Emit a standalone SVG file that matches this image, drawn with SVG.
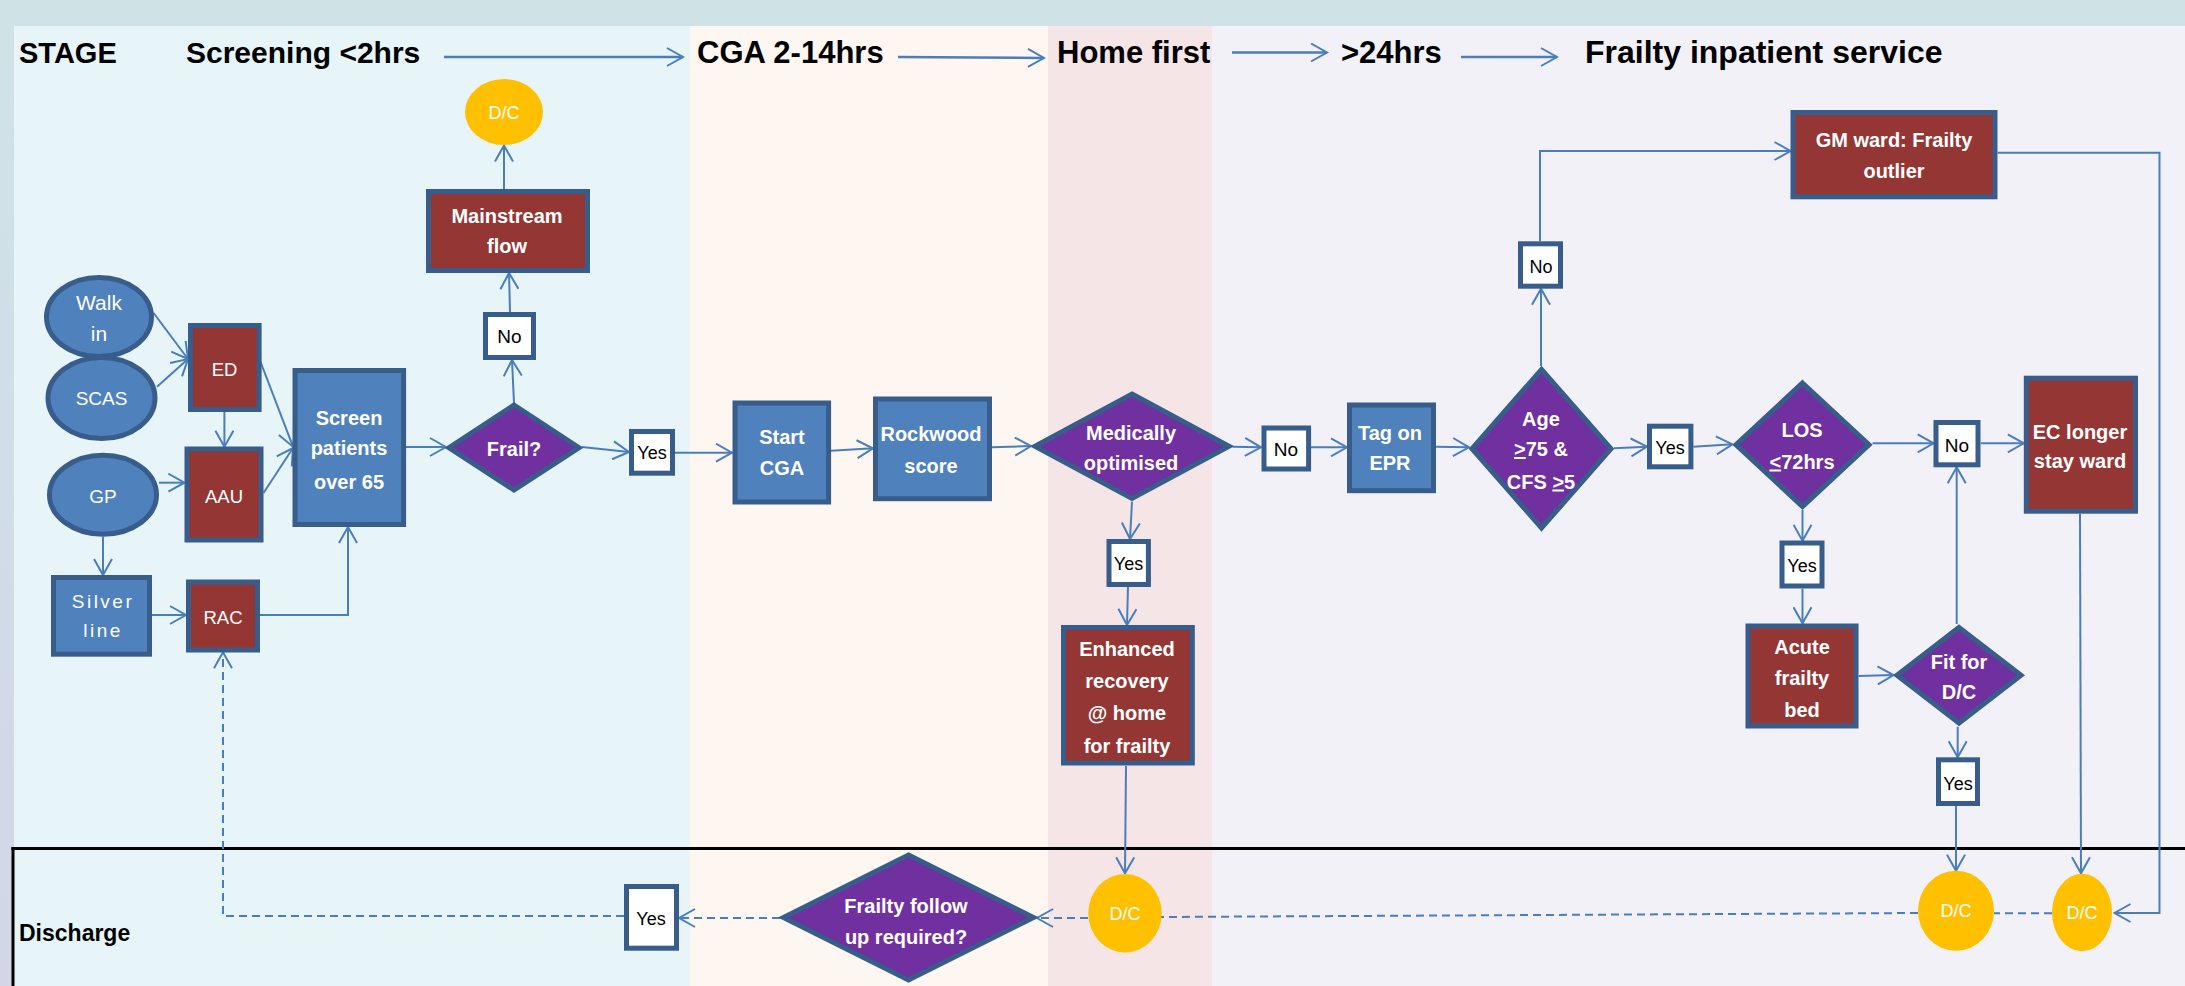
<svg xmlns="http://www.w3.org/2000/svg" width="2185" height="986" viewBox="0 0 2185 986">
<defs>
<linearGradient id="strip" x1="0" y1="0" x2="0" y2="1">
<stop offset="0" stop-color="#cfe3e7"/><stop offset="1" stop-color="#d2d6e6"/>
</linearGradient>
<marker id="ah" markerUnits="userSpaceOnUse" viewBox="0 0 20 20" refX="18" refY="10" markerWidth="20" markerHeight="20" orient="auto">
<path d="M2,1 L18,10 L2,19" fill="none" stroke="#4a7ebb" stroke-width="2"/>
</marker>
<style>
.blue{fill:#4f81bd;stroke:#385d8a;stroke-width:5}
.red{fill:#943634;stroke:#385d8a;stroke-width:5}
.pur{fill:#7030a0;stroke:#385d8a;stroke-width:5;stroke-linejoin:miter}
.lbl{fill:#ffffff;stroke:#385d8a;stroke-width:5}
.dc{fill:#ffc000}
text{font-family:"Liberation Sans",Arial,sans-serif}
.tb{font-weight:bold;font-size:20px;fill:#ffffff;text-anchor:middle}
.tn{font-size:18px;fill:#ffffff;text-anchor:middle}
.tk{font-size:18px;fill:#000000;text-anchor:middle}
.hd{font-weight:bold;font-size:31px;fill:#000000}
.cn{fill:none;stroke:#4a7ebb;stroke-width:2;marker-end:url(#ah)}
.cp{fill:none;stroke:#4a7ebb;stroke-width:2}
.ds{stroke-dasharray:8 5}
.hl{fill:none;stroke:#4a7ebb;stroke-width:2.5;marker-end:url(#ah)}
</style>
</defs>

<g id="background">
<rect x="0" y="0" width="2185" height="986" fill="#cfe3e7"/>
<rect x="0" y="26" width="14" height="960" fill="url(#strip)"/>
<rect x="14" y="26" width="676" height="960" fill="#e7f4f8"/>
<rect x="690" y="26" width="358" height="960" fill="#fdf6f1"/>
<rect x="1048" y="26" width="164" height="960" fill="#f5e5e6"/>
<rect x="1212" y="26" width="973" height="960" fill="#f3f1f8"/>
<line x1="11.5" y1="848.5" x2="2185" y2="848.5" stroke="#000" stroke-width="3"/>
<line x1="13" y1="847" x2="13" y2="986" stroke="#000" stroke-width="3"/>
</g>

<g id="headers">
<text class="hd" x="19" y="63" style="font-size:29px">STAGE</text>
<text class="hd" x="186" y="63" style="font-size:30px">Screening &lt;2hrs</text>
<text class="hd" x="697" y="63">CGA 2-14hrs</text>
<text class="hd" x="1057" y="63">Home first</text>
<text class="hd" x="1341" y="63">&gt;24hrs</text>
<text class="hd" x="1585" y="63" style="font-size:32px">Frailty inpatient service</text>
<text class="hd" x="19" y="941" style="font-size:23px">Discharge</text>
</g>

<g id="connectors">
<line class="hl" x1="444" y1="57" x2="683" y2="57"/>
<line class="hl" x1="898" y1="57" x2="1044" y2="58"/>
<line class="hl" x1="1232" y1="52.5" x2="1327" y2="52.5"/>
<line class="hl" x1="1461" y1="57" x2="1557" y2="57"/>

<line class="cn" x1="153.6" y1="313" x2="188" y2="359"/>
<line class="cn" x1="157" y1="386.7" x2="188" y2="359"/>
<line class="cn" x1="224.4" y1="412" x2="224.4" y2="446.7"/>
<line class="cn" x1="159" y1="482.7" x2="184.4" y2="482.7"/>
<line class="cn" x1="259.8" y1="360" x2="293" y2="446.7"/>
<line class="cn" x1="263.5" y1="493" x2="293" y2="448"/>
<line class="cn" x1="103" y1="536.7" x2="103" y2="575"/>
<line class="cn" x1="152" y1="615" x2="186" y2="615"/>
<polyline class="cn" points="260,615 348,615 348,527"/>
<line class="cn" x1="406" y1="447" x2="446" y2="447"/>
<line class="cn" x1="514" y1="403" x2="512" y2="360"/>
<line class="cn" x1="510" y1="312" x2="509" y2="273"/>
<line class="cn" x1="504" y1="189" x2="504" y2="145.5"/>
<line class="cn" x1="582" y1="447" x2="629" y2="452"/>
<line class="cn" x1="675" y1="452.7" x2="732" y2="452.7"/>
<line class="cn" x1="831" y1="450.7" x2="873" y2="448.3"/>
<line class="cn" x1="992" y1="447.3" x2="1031" y2="446"/>
<line class="cn" x1="1232.6" y1="446.7" x2="1261" y2="447.3"/>
<line class="cn" x1="1311" y1="447.3" x2="1347" y2="447.3"/>
<line class="cn" x1="1132" y1="501.7" x2="1130" y2="539"/>
<line class="cn" x1="1128" y1="587" x2="1127" y2="625"/>
<line class="cn" x1="1126" y1="766" x2="1125" y2="873.3"/>
<line class="cn" x1="1436" y1="446.7" x2="1469" y2="447.3"/>
<line class="cn" x1="1541" y1="366" x2="1541" y2="288.7"/>
<polyline class="cn" points="1540,241.3 1540,151 1790.5,151"/>
<polyline class="cn" points="1997.7,152.7 2159.5,152.7 2159.5,913 2114.5,913"/>
<line class="cn" x1="1614" y1="448.3" x2="1647" y2="446.7"/>
<line class="cn" x1="1693.4" y1="446.7" x2="1732.4" y2="444.3"/>
<line class="cn" x1="1872.6" y1="443.3" x2="1933.7" y2="443.3"/>
<line class="cn" x1="1980.7" y1="443.3" x2="2023.8" y2="443.3"/>
<line class="cn" x1="1802.5" y1="510" x2="1802.5" y2="540.7"/>
<line class="cn" x1="1802.5" y1="588.7" x2="1802.5" y2="623.3"/>
<line class="cn" x1="1858.6" y1="676" x2="1893.6" y2="675"/>
<line class="cn" x1="1956.7" y1="624" x2="1956.7" y2="467.3"/>
<line class="cn" x1="1957.7" y1="726.7" x2="1957.7" y2="757.3"/>
<line class="cn" x1="1956" y1="806" x2="1956" y2="870.7"/>
<line class="cn" x1="2080" y1="513.7" x2="2081" y2="873.3"/>

<line class="cp ds" x1="2052" y1="913.3" x2="1994" y2="913.3"/>
<line class="cp ds" x1="1918" y1="913" x2="1161" y2="917"/>
<line class="cn ds" x1="1088" y1="918" x2="1037" y2="918"/>
<line class="cn ds" x1="780" y1="918" x2="679" y2="918"/>
<polyline class="cn ds" points="624,916 223,916 223,652.3"/>
</g>

<g id="walk-in"><ellipse class="blue" cx="99" cy="317" rx="52.5" ry="39.5"/><text class="tn" style="font-size:21px" x="99" y="310">Walk</text><text class="tn" style="font-size:21px" x="99" y="341">in</text></g>
<g id="scas"><ellipse class="blue" cx="101.5" cy="398" rx="53.5" ry="40.5"/><text class="tn" style="font-size:19px" x="101.5" y="405">SCAS</text></g>
<g id="gp"><ellipse class="blue" cx="103" cy="494.7" rx="53.5" ry="39.5"/><text class="tn" style="font-size:19px" x="103" y="503">GP</text></g>
<g id="ed"><rect class="red" x="190.5" y="325.5" width="68.6" height="84"/><text class="tn" style="font-size:18.5px" x="224.5" y="375.5">ED</text></g>
<g id="aau"><rect class="red" x="187" y="449" width="74" height="91"/><text class="tn" style="font-size:18.5px" x="224" y="503">AAU</text></g>
<g id="silver-line"><rect class="blue" x="53.5" y="577.5" width="96" height="76.7"/><text class="tn" style="font-size:19px;letter-spacing:2.5px" x="103" y="608">Silver</text><text class="tn" style="font-size:19px;letter-spacing:2.5px" x="103" y="637">line</text></g>
<g id="rac"><rect class="red" x="188.5" y="582" width="69" height="68"/><text class="tn" style="font-size:18.5px" x="223" y="623.5">RAC</text></g>
<g id="screen"><rect class="blue" x="295" y="370.5" width="108.6" height="154"/><text class="tb" x="349" y="424.5">Screen</text><text class="tb" x="349" y="455">patients</text><text class="tb" x="349" y="488.5">over 65</text></g>
<g id="frail"><polygon class="pur" points="514,405 579,447.7 514,490 449,447.7"/><text class="tb" x="514" y="456">Frail?</text></g>
<g id="no-frail"><rect class="lbl" x="485.5" y="314.5" width="48" height="43"/><text class="tk" style="font-size:19px" x="509.5" y="343">No</text></g>
<g id="mainstream"><rect class="red" x="428.5" y="191.5" width="159" height="79"/><text class="tb" x="507" y="222.5">Mainstream</text><text class="tb" x="507" y="252.5">flow</text></g>
<g id="dc-top"><ellipse class="dc" cx="504" cy="112" rx="39" ry="33"/><text class="tn" x="504" y="118.5">D/C</text></g>
<g id="yes-frail"><rect class="lbl" x="631.5" y="431.5" width="41" height="41.7"/><text class="tk" x="652" y="458.5">Yes</text></g>
<g id="start-cga"><rect class="blue" x="735" y="403" width="93.6" height="99"/><text class="tb" x="782" y="444">Start</text><text class="tb" x="782" y="475">CGA</text></g>
<g id="rockwood"><rect class="blue" x="875.5" y="399" width="114" height="99.7"/><text class="tb" x="931" y="441">Rockwood</text><text class="tb" x="931" y="473">score</text></g>
<g id="medically"><polygon class="pur" points="1132,394 1229,446.3 1132,498.5 1035,446.3"/><text class="tb" x="1131" y="440">Medically</text><text class="tb" x="1131" y="470">optimised</text></g>
<g id="no-med"><rect class="lbl" x="1264" y="428" width="44.6" height="41"/><text class="tk" style="font-size:19px" x="1286" y="455.5">No</text></g>
<g id="tag-epr"><rect class="blue" x="1349.5" y="405" width="84" height="85.7"/><text class="tb" x="1390" y="439.5">Tag on</text><text class="tb" x="1390" y="470">EPR</text></g>
<g id="yes-med"><rect class="lbl" x="1109" y="541.5" width="39.4" height="43"/><text class="tk" x="1128.5" y="569.5">Yes</text></g>
<g id="enhanced"><rect class="red" x="1063.5" y="627.5" width="128.8" height="135.5"/><text class="tb" x="1127" y="656">Enhanced</text><text class="tb" x="1127" y="688">recovery</text><text class="tb" x="1127" y="720">@ home</text><text class="tb" x="1127" y="752.5">for frailty</text></g>
<g id="dc-home"><ellipse class="dc" cx="1125" cy="913.3" rx="36.7" ry="39.3"/><text class="tn" x="1125" y="920">D/C</text></g>
<g id="age"><polygon class="pur" points="1541.5,369.5 1611,448.7 1541.5,528 1472,448.7"/><text class="tb" x="1541" y="426">Age</text><text class="tb" x="1541" y="456"><tspan text-decoration="underline">&gt;</tspan>75 &amp;</text><text class="tb" x="1541" y="488.5">CFS <tspan text-decoration="underline">&gt;</tspan>5</text></g>
<g id="no-age"><rect class="lbl" x="1520.5" y="243.8" width="40" height="42.4"/><text class="tk" x="1541" y="273">No</text></g>
<g id="gm-ward"><rect class="red" x="1793" y="112.5" width="202" height="84.3"/><text class="tb" x="1894" y="147">GM ward: Frailty</text><text class="tb" x="1894" y="177.5">outlier</text></g>
<g id="yes-age"><rect class="lbl" x="1649.5" y="426.2" width="41.4" height="40.6"/><text class="tk" x="1670" y="453.5">Yes</text></g>
<g id="los"><polygon class="pur" points="1802.5,383 1869,444.7 1802.5,506.5 1736,444.7"/><text class="tb" x="1802" y="437">LOS</text><text class="tb" x="1802" y="468.5"><tspan text-decoration="underline">&lt;</tspan>72hrs</text></g>
<g id="no-los"><rect class="lbl" x="1936" y="422.5" width="42" height="42.3"/><text class="tk" style="font-size:19px" x="1957" y="451.5">No</text></g>
<g id="ec-ward"><rect class="red" x="2026.3" y="378.2" width="109.2" height="133"/><text class="tb" x="2080" y="438.5">EC longer</text><text class="tb" x="2080" y="468">stay ward</text></g>
<g id="yes-los"><rect class="lbl" x="1782" y="543" width="40" height="43"/><text class="tk" x="1802" y="571.5">Yes</text></g>
<g id="acute"><rect class="red" x="1748" y="626" width="108" height="100"/><text class="tb" x="1802" y="653.5">Acute</text><text class="tb" x="1802" y="684.5">frailty</text><text class="tb" x="1802" y="717">bed</text></g>
<g id="fit-dc"><polygon class="pur" points="1959,627.5 2021,675.3 1959,723 1897,675.3"/><text class="tb" x="1959" y="668.5">Fit for</text><text class="tb" x="1959" y="698.5">D/C</text></g>
<g id="yes-fit"><rect class="lbl" x="1938.5" y="759.8" width="39" height="43.7"/><text class="tk" x="1958" y="789.5">Yes</text></g>
<g id="dc-fit"><ellipse class="dc" cx="1956" cy="910.7" rx="38" ry="40"/><text class="tn" x="1956" y="917">D/C</text></g>
<g id="dc-ec"><ellipse class="dc" cx="2082" cy="912.5" rx="30" ry="38.7"/><text class="tn" x="2082" y="919">D/C</text></g>
<g id="frailty-follow"><polygon class="pur" points="908.5,855 1033.5,917.5 908.5,980 783.5,917.5"/><text class="tb" x="906" y="913">Frailty follow</text><text class="tb" x="906" y="943.5">up required?</text></g>
<g id="yes-discharge"><rect class="lbl" x="626.5" y="886.5" width="50" height="61.7"/><text class="tk" x="651" y="924.5">Yes</text></g>
</svg>
